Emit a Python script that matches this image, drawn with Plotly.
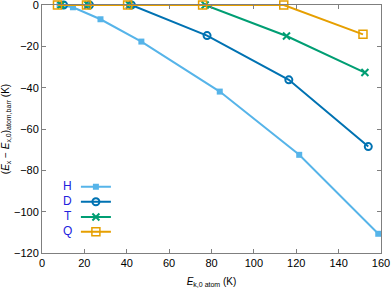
import plotly.graph_objects as go

# Data
h_x = [8.3, 14.6, 27.6, 46.9, 83.9, 121.4, 158.7]
h_y = [0.0, -1.1, -6.9, -17.7, -41.9, -72.5, -110.7]
d_x = [10.2, 22.4, 42.2, 77.9, 116.5, 154.0]
d_y = [0.0, 0.0, 0.0, -14.8, -36.2, -68.5]
t_x = [9.0, 21.7, 41.3, 77.0, 115.4, 152.4]
t_y = [0.0, 0.0, 0.0, 0.0, -15.0, -32.7]
q_x = [7.3, 21.0, 40.4, 75.8, 114.1, 151.5]
q_y = [0.0, 0.0, 0.0, 0.0, 0.0, -14.2]
labels = ["H", "D", "T", "Q"]

x_ticks = [0, 20, 40, 60, 80, 100, 120, 140, 160]
y_ticks = [0, -20, -40, -60, -80, -100, -120]

colors = ["#56B4E9", "#0072B2", "#009E73", "#E69F00"]
markers = [
    dict(symbol="square", size=6),
    dict(symbol="circle-open", size=7, line=dict(width=2)),
    dict(symbol="x-thin-open", size=7, line=dict(width=2)),
    dict(symbol="square-open", size=8, line=dict(width=1.5)),
]
series = [(h_x, h_y), (d_x, d_y), (t_x, t_y), (q_x, q_y)]

fig = go.Figure()
legend_names = ["legend", "legend2", "legend3", "legend4"]
for i, ((xs, ys), lab) in enumerate(zip(series, labels)):
    m = dict(markers[i])
    m["color"] = colors[i]
    if "line" in m:
        m["line"] = dict(m["line"], color=colors[i])
    fig.add_trace(go.Scatter(
        x=xs, y=ys, mode="lines+markers", name=" ",
        line=dict(color=colors[i], width=2),
        marker=m, cliponaxis=False,
        legend=legend_names[i], showlegend=True,
    ))

font = dict(family="Liberation Sans, Arial, sans-serif", size=11, color="#000")
title_font = dict(family="Liberation Sans, Arial, sans-serif", size=10, color="#000")
axis_common = dict(
    showline=True, linecolor="#7f7f7f", linewidth=1, mirror="allticks",
    ticks="inside", ticklen=4, tickcolor="#7f7f7f", tickwidth=1,
    showgrid=False, zeroline=False, tickfont=font, automargin=False,
    ticklabeloverflow="allow",
)

layout_legends = {}
annotations = []
y_px = [185.7, 200.7, 216.0, 230.7]
for i, lab in enumerate(labels):
    yp = (253 - (y_px[i] + 1)) / 248.0
    layout_legends[legend_names[i]] = dict(
        x=0.10, y=yp, xanchor="left", yanchor="middle",
        bgcolor="rgba(0,0,0,0)", borderwidth=0,
        font=dict(size=1), itemwidth=30,
    )
    annotations.append(dict(
        text=lab, xref="paper", yref="paper",
        x=(74 - 42) / 339.0, y=(253 - y_px[i]) / 248.0,
        xanchor="right", yanchor="middle", showarrow=False,
        font=dict(family="Liberation Sans, Arial, sans-serif", size=12, color="#2222dd"),
    ))

sub = '<span style="font-size:7px">{}</span>'
fig.update_layout(
    width=392, height=288,
    margin=dict(l=42, r=11, t=5, b=35),
    plot_bgcolor="white", paper_bgcolor="white",
    font=font,
    xaxis=dict(axis_common, range=[0, 160], tickvals=x_ticks,
               title=dict(text="<i>E</i><sub>" + sub.format("k,0 atom") + "</sub> (K)",
                          standoff=14, font=title_font)),
    yaxis=dict(axis_common, range=[-120, 0], tickvals=y_ticks,
               title=dict(text="(<i>E</i><sub>x</sub> − <i>E</i><sub>x,0</sub>)<sub>"
                               + sub.format("atom,barr") + "</sub> (K)",
                          standoff=5, font=title_font)),
    annotations=annotations,
    **layout_legends,
)

fig.write_html("out.html", config={"displayModeBar": False},
               post_script="document.body.style.margin='0px';")
